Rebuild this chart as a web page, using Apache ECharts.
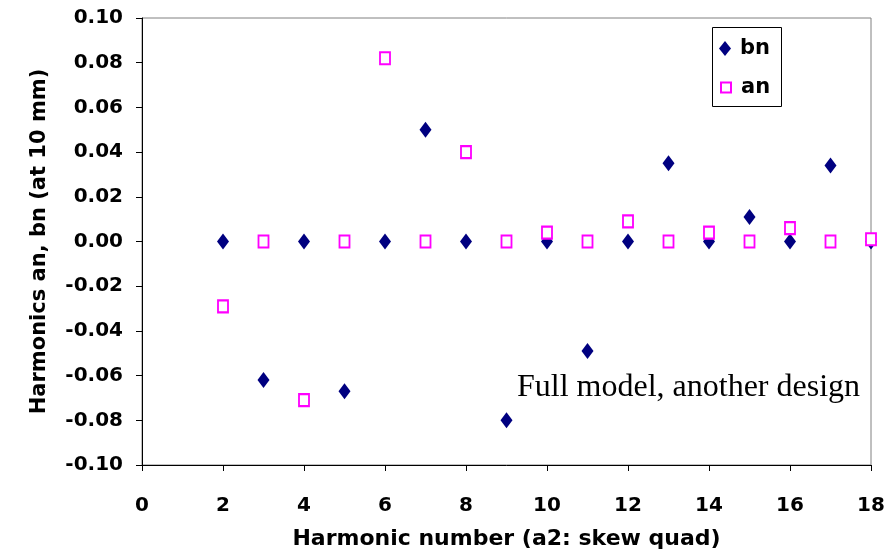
<!DOCTYPE html>
<html><head><meta charset="utf-8">
<script src="https://cdn.jsdelivr.net/npm/echarts@6/dist/echarts.min.js"></script>
<style>html,body{margin:0;padding:0;background:#fff}#c{width:884px;height:550px}</style>
</head><body><div id="c"></div>
<script>
const harmonics = [2,3,4,5,6,7,8,9,10,11,12,13,14,15,16,17,18];
const bnValues = [0,-0.062,0,-0.067,0,0.050,0,-0.080,0,-0.049,0,0.035,0,0.011,0,0.034,0];
const anValues = [-0.029,0,-0.071,0,0.082,0,0.040,0,0.004,0,0.009,0,0.004,0,0.006,0,0.001];
const xTicks = [0,2,4,6,8,10,12,14,16,18];
const yTicks = [-0.10,-0.08,-0.06,-0.04,-0.02,0.00,0.02,0.04,0.06,0.08,0.10];

const chart = echarts.init(document.getElementById('c'), null, {renderer:'canvas'});
const FONT = '"DejaVu Sans", Arial, sans-serif';
const lab = {fontFamily:FONT, fontWeight:'bold', fontSize:20, color:'#000'};
const ttl = {fontFamily:FONT, fontWeight:'bold', fontSize:22, color:'#000'};
chart.setOption({
  animation:false,
  backgroundColor:'#fff',
  grid:{left:142,right:13,top:18,bottom:85,show:true,borderColor:'#808080',borderWidth:1,
        containLabel:false, outerBoundsMode:'none'},
  legend:[
    {orient:'vertical', left:719, top:38, padding:0, itemWidth:12, itemHeight:15, itemGap:8,
     textStyle:Object.assign({}, lab, {fontSize:21, padding:[0,0,0,4]}), data:['bn']},
    {orient:'vertical', left:720, top:77, padding:0, itemWidth:10, itemHeight:10, itemGap:8,
     textStyle:Object.assign({}, lab, {fontSize:21, padding:[0,0,0,5]}), data:['an']}
  ],
  xAxis:{
    type:'value', min:0, max:18, interval:2,
    name:'Harmonic number (a2: skew quad)', nameLocation:'middle', nameGap:63,
    nameTextStyle:Object.assign({}, ttl),
    axisLine:{onZero:false,lineStyle:{color:'#000',width:1}},
    axisTick:{show:true,length:6,lineStyle:{color:'#000'}},
    axisLabel:Object.assign({}, lab, {margin:31, formatter:v=>xTicks.includes(v)?String(v):''}),
    splitLine:{show:false}
  },
  yAxis:{
    type:'value', min:-0.10, max:0.10, interval:0.02,
    name:'Harmonics an, bn (at 10 mm)', nameLocation:'middle', nameGap:92,
    nameTextStyle:Object.assign({}, ttl, {fontSize:21}),
    axisLine:{show:true,onZero:false,lineStyle:{color:'#000',width:1}},
    axisTick:{show:true,length:6,lineStyle:{color:'#000'}},
    axisLabel:Object.assign({}, lab, {margin:19, formatter:v=>{
      const t = yTicks.find(y=>Math.abs(y-v)<1e-9);
      return t===undefined?'':(Math.abs(t)<1e-9?'0.00':t.toFixed(2));
    }}),
    splitLine:{show:false}
  },
  graphic:[
    {type:'rect', left:712, top:27, z:0,
     shape:{width:69, height:79}, style:{fill:'#fff', stroke:'#000', lineWidth:1}},
    {type:'text', x:517, y:388, z:10,
     style:{text:'Full model, another design', font:'32px "Liberation Serif", "Times New Roman", serif', fill:'#000', verticalAlign:'middle'}}
  ],
  series:[
    {name:'bn', type:'scatter', symbol:'diamond', symbolSize:[12,16],
     itemStyle:{color:'#000080', opacity:1}, z:3,
     data:harmonics.map((h,i)=>[h,bnValues[i]])},
    {name:'an', type:'scatter', symbol:'rect', symbolSize:[10,12],
     itemStyle:{color:'#fff', borderColor:'#FF00FF', borderWidth:2, opacity:1}, z:4,
     data:harmonics.map((h,i)=>[h,anValues[i]])}
  ]
});
</script></body></html>
